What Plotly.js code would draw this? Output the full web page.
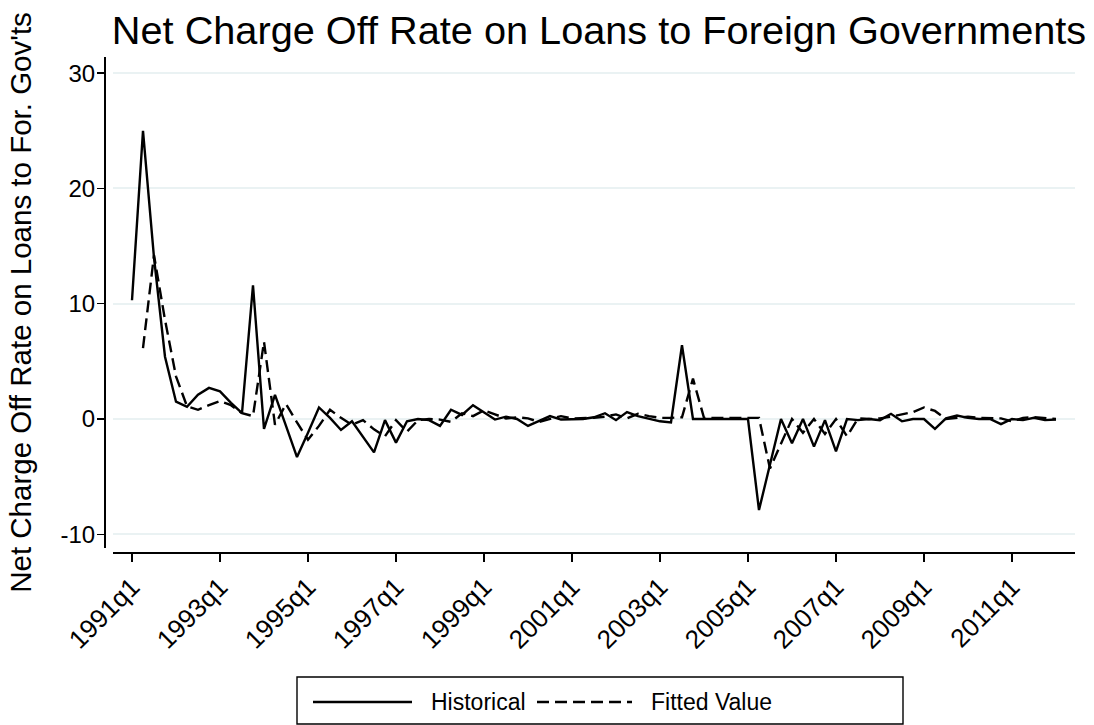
<!DOCTYPE html>
<html><head><meta charset="utf-8">
<script src="https://cdn.plot.ly/plotly-3.0.1.min.js"></script>
<style>html,body{margin:0;padding:0;background:#fff}#chart{width:1094px;height:725px}</style>
</head><body><div id="chart"></div>
<script>
// Categories: quarters 1991q1 .. 2012q1
const startYear = 1991;
const nQuarters = 85;
const quarters = [];
for (let i = 0; i < nQuarters; i++) {
  quarters.push((startYear + Math.floor(i / 4)) + 'q' + (i % 4 + 1));
}

const historical = [
  10.3, 25.0, 14.0, 5.4, 1.5, 1.05, 2.1, 2.7, 2.4, 1.4,
  0.5, 11.6, -0.85, 2.1, -0.6, -3.3, -1.2, 1.0, 0.1, -0.95,
  -0.2, -1.5, -2.9, -0.1, -2.05, -0.2, 0.0, -0.1, -0.6, 0.8,
  0.35, 1.2, 0.55, -0.05, 0.2, 0.0, -0.6, -0.2, 0.25, -0.05,
  -0.05, 0.0, 0.15, 0.5, -0.1, 0.6, 0.25, 0.0, -0.2, -0.3,
  6.4, 0.0, 0.0, 0.0, 0.0, 0.0, 0.0, -7.9, -4.0, 0.0,
  -2.1, 0.0, -2.4, -0.1, -2.8, 0.0, -0.1, 0.0, -0.1, 0.45,
  -0.2, 0.0, 0.0, -0.85, 0.05, 0.3, 0.1, 0.0, 0.0, -0.45,
  0.0, -0.1, 0.1, -0.1, -0.05
];

const fitted = [
  null, 6.15, 14.2, 8.6, 3.7, 1.1, 0.8, 1.2, 1.55, 1.2,
  0.5, 0.25, 6.7, -0.5, 1.3, -0.3, -1.8, -0.6, 0.8, 0.1,
  -0.5, -0.1, -0.9, -1.5, -0.1, -1.1, -0.1, 0.0, -0.05, -0.25,
  0.5, 0.25, 0.75, 0.4, 0.05, 0.15, 0.05, -0.25, 0.0, 0.25,
  0.05, 0.05, 0.1, 0.2, 0.4, 0.05, 0.45, 0.25, 0.1, 0.1,
  0.15, 3.5, 0.1, 0.1, 0.1, 0.1, 0.1, 0.1, -4.3, -2.2,
  0.0, -1.2, 0.0, -1.3, 0.0, -1.5, 0.05, 0.0, 0.05, 0.2,
  0.4, 0.6, 1.0, 0.7, 0.0, 0.1, 0.2, 0.1, 0.1, 0.05,
  -0.2, 0.1, 0.15, 0.05, 0.0
];

const xTickLabels = ['1991q1','1993q1','1995q1','1997q1','1999q1','2001q1','2003q1','2005q1','2007q1','2009q1','2011q1'];
const yTickVals = [-10, 0, 10, 20, 30];
const seriesNames = ['Historical', 'Fitted Value'];

const FONT = 'Liberation Sans, Arial, Helvetica, sans-serif';

const traces = [
  {x: quarters, y: historical, type: 'scatter', mode: 'lines', name: seriesNames[0],
   line: {color: '#000', width: 2.4}, connectgaps: false, hoverinfo: 'x+y'},
  {x: quarters, y: fitted, type: 'scatter', mode: 'lines', name: seriesNames[1],
   line: {color: '#000', width: 2.4, dash: '12px,6px'}, connectgaps: false, hoverinfo: 'x+y'}
];

// pixel helpers for the custom legend (plot area: l=104, t=57, w=971, h=495)
const L = 104, T = 57, W = 971, H = 495;
const px = v => (v - L) / W;
const py = v => (T + H - v) / H;

const layout = {
  width: 1094, height: 725,
  margin: {l: L, r: 1094 - L - W, t: T, b: 725 - T - H, pad: 0},
  paper_bgcolor: '#fff', plot_bgcolor: '#fff',
  showlegend: false,
  font: {family: FONT, color: '#000'},
  title: {text: 'Net Charge Off Rate on Loans to Foreign Governments',
          font: {family: FONT, size: 39.7, color: '#000'},
          x: 0.5098, xref: 'paper', xanchor: 'center',
          y: 1 - 30 / 725, yref: 'container', yanchor: 'middle'},
  xaxis: {
    type: 'category', categoryorder: 'array', categoryarray: quarters,
    range: [-1.727, 85.73], domain: [9 / W, 1],
    anchor: 'free', position: 0,
    showline: true, linecolor: '#000', linewidth: 1.5, mirror: false,
    ticks: 'outside', ticklen: 8, tickwidth: 1.5, tickcolor: '#000',
    tickmode: 'array', tickvals: xTickLabels, ticktext: xTickLabels,
    tickangle: -45, tickfont: {family: FONT, size: 26, color: '#000'},
    showgrid: false, zeroline: false, automargin: false
  },
  yaxis: {
    range: [-11.19, 31.4], domain: [4 / H, 1],
    anchor: 'free', position: 0,
    showline: true, linecolor: '#000', linewidth: 1.5,
    ticks: 'outside', ticklen: 7, tickwidth: 1.5, tickcolor: '#000',
    tickmode: 'array', tickvals: yTickVals, ticktext: yTickVals.map(String),
    tickfont: {family: FONT, size: 24, color: '#000'},
    ticklabelstandoff: -3,
    showgrid: true, gridcolor: '#eaf2f3', gridwidth: 2,
    zeroline: false, automargin: false,
    title: {text: "Net Charge Off Rate on Loans to For. Gov'ts",
            font: {family: FONT, size: 29.5, color: '#000'}, standoff: 18}
  },
  shapes: [
    {type: 'rect', xref: 'paper', yref: 'paper', x0: px(297), x1: px(903), y0: py(724), y1: py(677),
     line: {color: '#000', width: 1.4}, fillcolor: 'rgba(0,0,0,0)'},
    {type: 'line', xref: 'paper', yref: 'paper', x0: px(313), x1: px(412), y0: py(702), y1: py(702),
     line: {color: '#000', width: 2.4}},
    {type: 'line', xref: 'paper', yref: 'paper', x0: px(537), x1: px(632), y0: py(702), y1: py(702),
     line: {color: '#000', width: 2.4, dash: '12px,6px'}}
  ],
  annotations: [
    {text: seriesNames[0], xref: 'paper', yref: 'paper', x: px(429), y: py(702),
     xanchor: 'left', yanchor: 'middle', showarrow: false, font: {family: FONT, size: 23, color: '#000'}},
    {text: seriesNames[1], xref: 'paper', yref: 'paper', x: px(649), y: py(702),
     xanchor: 'left', yanchor: 'middle', showarrow: false, font: {family: FONT, size: 23, color: '#000'}}
  ]
};

Plotly.newPlot('chart', traces, layout, {displayModeBar: false, staticPlot: true});
</script></body></html>
